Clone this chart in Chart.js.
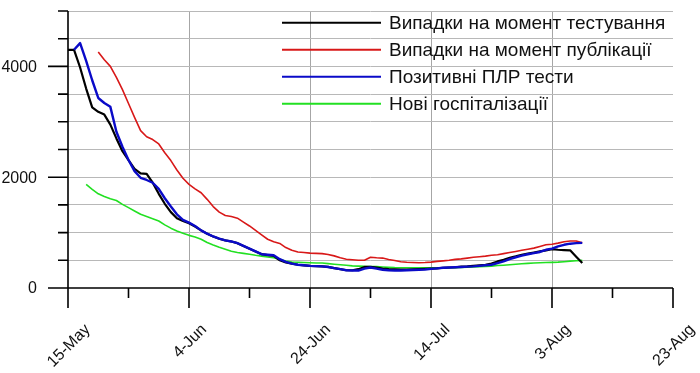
<!DOCTYPE html>
<html>
<head>
<meta charset="utf-8">
<script src="https://cdn.jsdelivr.net/npm/chart.js@4"></script>
<style>
html,body{margin:0;padding:0;background:#fff;}
#wrap{position:relative;width:700px;height:373px;}
</style>
</head>
<body>
<div id="wrap"><canvas id="c"></canvas></div>
<script>
// x positions are days after 15-May
const tickDays = [0, 20, 40, 60, 80, 100];
const tickLabels = ['15-May', '4-Jun', '24-Jun', '14-Jul', '3-Aug', '23-Aug'];
const yLabelValues = [0, 2000, 4000];

const seriesNames = ['Випадки на момент тестування', 'Випадки на момент публікації', 'Позитивні ПЛР тести', 'Нові госпіталізації'];

// first day of each series (days after 15-May)
const blackStart = 0;
const redStart = 5;
const blueStart = 1;
const greenStart = 3;

const casesByTestDate = [
  4300,4300,3980,3600,3260,3180,3130,2950,2700,2470,
  2310,2150,2070,2060,1900,1700,1520,1370,1260,1210,
  1170,1110,1040,980,930,890,860,840,810,760,
  710,660,610,595,580,500,460,440,420,410,
  400,395,390,380,360,340,320,320,340,380,
  380,370,350,340,335,330,330,335,340,345,
  350,355,365,370,375,385,390,400,410,420,
  440,480,510,545,570,600,620,640,660,680,
  700,690,685,680,565,450
];
const casesByPublishDate = [
  4260,4120,4000,3800,3580,3330,3080,2840,2730,2680,
  2600,2440,2300,2130,1980,1870,1790,1720,1600,1470,
  1370,1310,1290,1260,1190,1120,1040,960,880,835,
  805,730,680,650,640,630,625,620,605,580,
  545,520,510,500,500,555,545,540,515,495,
  475,465,460,456,460,467,480,490,500,516,
  525,540,555,565,575,590,600,620,640,660,
  680,700,720,750,780,790,810,835,848,848,
  815
];
const positivePcr = [
  4300,4420,4100,3750,3430,3340,3270,2820,2550,2310,
  2110,1990,1950,1900,1790,1620,1470,1330,1230,1180,
  1120,1040,980,930,890,860,840,810,760,710,
  660,610,600,590,520,470,440,420,410,400,
  395,390,380,360,340,320,315,315,350,370,
  350,330,320,315,315,320,325,330,335,345,
  355,365,370,375,380,385,390,400,410,420,
  450,480,520,555,585,610,630,650,690,710,
  750,780,800,810,815
];
const newHospitalisations = [
  1870,1780,1700,1650,1610,1580,1510,1450,1390,1330,
  1290,1250,1210,1140,1080,1030,990,950,920,880,
  820,775,735,700,665,640,625,610,590,575,
  560,545,515,485,470,465,460,455,452,450,
  440,430,420,410,400,395,390,389,385,378,
  372,367,366,366,366,366,366,366,366,366,
  366,366,370,375,380,385,389,395,405,412,
  420,430,438,445,452,456,460,463,467,475,
  485,492,498
];

const colors = ['#000000', '#d81818', '#0a0ac8', '#22e022'];

function pts(start, arr) {
  return arr.map((v, i) => ({ x: start + i, y: v }));
}

const FONT = '"Liberation Sans", Arial, sans-serif';

const customAxes = {
  id: 'customAxes',
  afterDraw(chart) {
    const ctx = chart.ctx;
    const xs = chart.scales.x, ys = chart.scales.y;
    const x0 = xs.getPixelForValue(0);
    const xEnd = xs.getPixelForValue(100);
    const y0 = ys.getPixelForValue(0);
    const yTop = ys.getPixelForValue(5000);
    ctx.save();
    ctx.strokeStyle = '#000';
    ctx.lineWidth = 1.6;
    ctx.beginPath();
    // y axis line
    ctx.moveTo(x0, yTop); ctx.lineTo(x0, y0 + 20);
    // x axis line
    ctx.moveTo(x0 - 20, y0); ctx.lineTo(xEnd, y0);
    // y ticks
    for (let v = 0; v <= 5000; v += 500) {
      const y = ys.getPixelForValue(v);
      const len = (v % 2000 === 0) ? 20 : 10;
      ctx.moveTo(x0 - len, y); ctx.lineTo(x0, y);
    }
    // x ticks
    for (let d = 0; d <= 100; d += 10) {
      const x = xs.getPixelForValue(d);
      const len = (d % 20 === 0) ? 20 : 10;
      ctx.moveTo(x, y0); ctx.lineTo(x, y0 + len);
    }
    ctx.stroke();

    // y labels
    ctx.fillStyle = '#111';
    ctx.font = '16px ' + FONT;
    ctx.textAlign = 'right';
    ctx.textBaseline = 'middle';
    yLabelValues.forEach(v => {
      ctx.fillText(String(v), x0 - 31, ys.getPixelForValue(v) + 1);
    });

    // x labels rotated 45
    ctx.textAlign = 'center';
    ctx.textBaseline = 'middle';
    tickDays.forEach((d, i) => {
      const t = tickLabels[i];
      const w = ctx.measureText(t).width;
      const cx = xs.getPixelForValue(d) + 1;
      const cy = 327 + 0.354 * w;
      ctx.save();
      ctx.translate(cx, cy);
      ctx.rotate(-Math.PI / 4);
      ctx.fillText(t, 0, 0);
      ctx.restore();
    });

    // legend
    ctx.font = '19px ' + FONT;
    ctx.textAlign = 'left';
    ctx.textBaseline = 'middle';
    seriesNames.forEach((name, i) => {
      const y = 22.7 + 27 * i;
      ctx.strokeStyle = colors[i];
      ctx.lineWidth = 2;
      ctx.beginPath();
      ctx.moveTo(282, y); ctx.lineTo(381, y);
      ctx.stroke();
      ctx.fillStyle = '#111';
      ctx.fillText(name, 389, y + 1);
    });
    ctx.restore();
  }
};

new Chart(document.getElementById('c'), {
  type: 'line',
  data: {
    datasets: [
      { label: seriesNames[0], data: pts(blackStart, casesByTestDate), borderColor: colors[0], borderWidth: 2.2, order: 1 },
      { label: seriesNames[1], data: pts(redStart, casesByPublishDate), borderColor: colors[1], borderWidth: 1.6, order: 2 },
      { label: seriesNames[2], data: pts(blueStart, positivePcr), borderColor: colors[2], borderWidth: 2.4, order: 0 },
      { label: seriesNames[3], data: pts(greenStart, newHospitalisations), borderColor: colors[3], borderWidth: 1.6, order: 3 }
    ]
  },
  options: {
    responsive: true,
    maintainAspectRatio: false,
    animation: false,
    layout: { padding: { left: 68, right: 27, top: 11, bottom: 85 } },
    elements: { point: { radius: 0 }, line: { tension: 0, fill: false, borderJoinStyle: 'round' } },
    plugins: { legend: { display: false }, tooltip: { enabled: false } },
    scales: {
      x: {
        type: 'linear', min: 0, max: 100,
        ticks: { display: false, stepSize: 10 },
        border: { display: false },
        grid: {
          drawTicks: false,
          color: c => (c.tick && [20, 40, 60, 80].includes(c.tick.value)) ? '#a6a6a6' : 'rgba(0,0,0,0)',
          lineWidth: 1
        }
      },
      y: {
        type: 'linear', min: 0, max: 5000,
        ticks: { display: false, stepSize: 500 },
        border: { display: false },
        grid: {
          drawTicks: false,
          color: c => (c.tick && c.tick.value === 0) ? 'rgba(0,0,0,0)' : '#b8b8b8',
          lineWidth: 1
        }
      }
    }
  },
  plugins: [customAxes]
});
</script>
</body>
</html>
